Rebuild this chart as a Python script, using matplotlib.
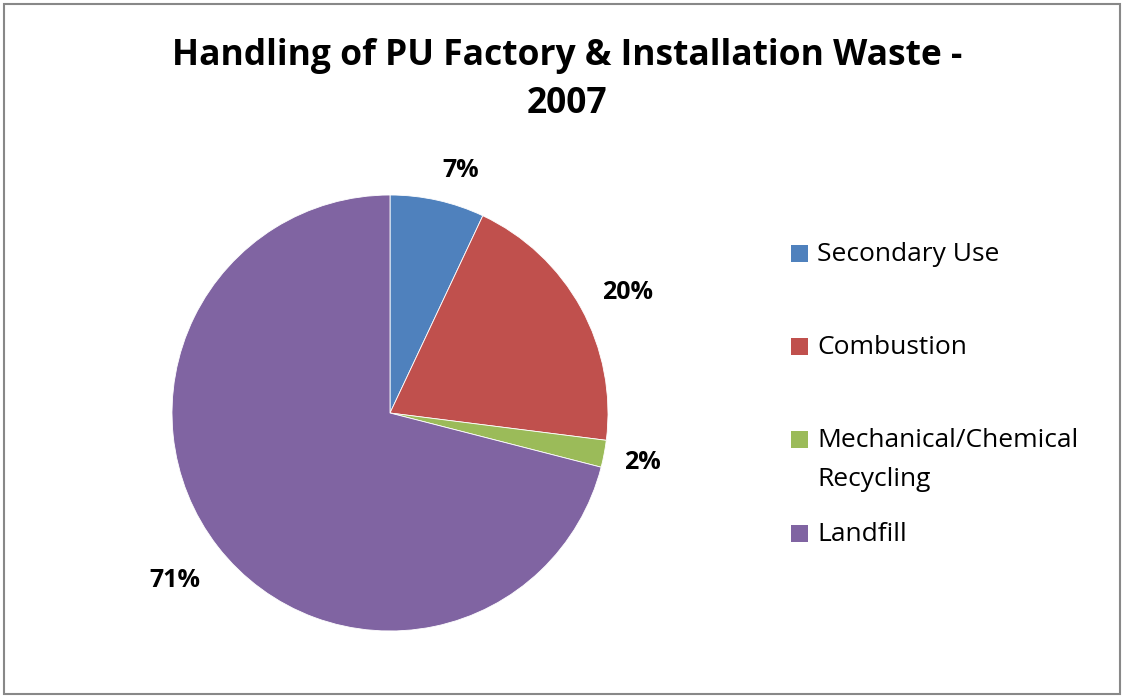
import matplotlib
matplotlib.use("Agg")
import matplotlib.pyplot as plt
from matplotlib.patches import Rectangle
import numpy as np

categories = ["Secondary Use", "Combustion", "Mechanical/Chemical\nRecycling", "Landfill"]
values = [7, 20, 2, 71]
colors = ["#4F81BD", "#C0504D", "#9BBB59", "#8064A2"]
title = "Handling of PU Factory & Installation Waste -\n2007"

FONT = ["Open Sans", "DejaVu Sans"]
W, H = 1124, 697
fig = plt.figure(figsize=(W / 100, H / 100), dpi=100)
fig.patch.set_facecolor("white")

# border
fig.add_artist(Rectangle((4 / W, 3 / H), (W - 8) / W, (H - 7) / H, transform=fig.transFigure,
                         fill=False, edgecolor="#888888", linewidth=1.5))

# pie axes: center (390, 413), radius 218 px
cx, cy, r = 390, 413, 218
ax = fig.add_axes([(cx - r) / W, (H - cy - r) / H, 2 * r / W, 2 * r / H])
wedges, _ = ax.pie(values, colors=colors, startangle=90, counterclock=False,
                   radius=1.0, wedgeprops=dict(edgecolor="white", linewidth=0.6))
ax.set_xlim(-1, 1)
ax.set_ylim(-1, 1)
ax.set_aspect("equal")
ax.axis("off")

# percentage labels outside (distance, angle offset in degrees)
label_dist = [1.16, 1.22, 1.18, 1.25]
label_dang = [-3.7, -1.9, -0.4, 0.0]
for w, v, d, da in zip(wedges, values, label_dist, label_dang):
    ang = np.deg2rad((w.theta1 + w.theta2) / 2 + da)
    ax.text(d * np.cos(ang), d * np.sin(ang), f"{v}%", ha="center", va="center",
            fontsize=18, fontweight="bold", family=FONT, color="black")

# title
fig.text(567 / W, 1 - 80 / H, title, ha="center", va="center", fontsize=25.5,
         fontweight="bold", family=FONT, linespacing=1.42)

# legend
leg_y = [253, 346, 439, 533]
for lab, c, y in zip(categories, colors, leg_y):
    fig.add_artist(Rectangle((791 / W, 1 - (y + 8.5) / H), 17 / W, 17 / H,
                             transform=fig.transFigure, facecolor=c, edgecolor="none"))
    fig.text(817 / W, 1 - (y - 11) / H, lab, ha="left", va="top", fontsize=19,
             family=FONT, linespacing=1.72)

fig.savefig("out.png", dpi=100, facecolor="white")
